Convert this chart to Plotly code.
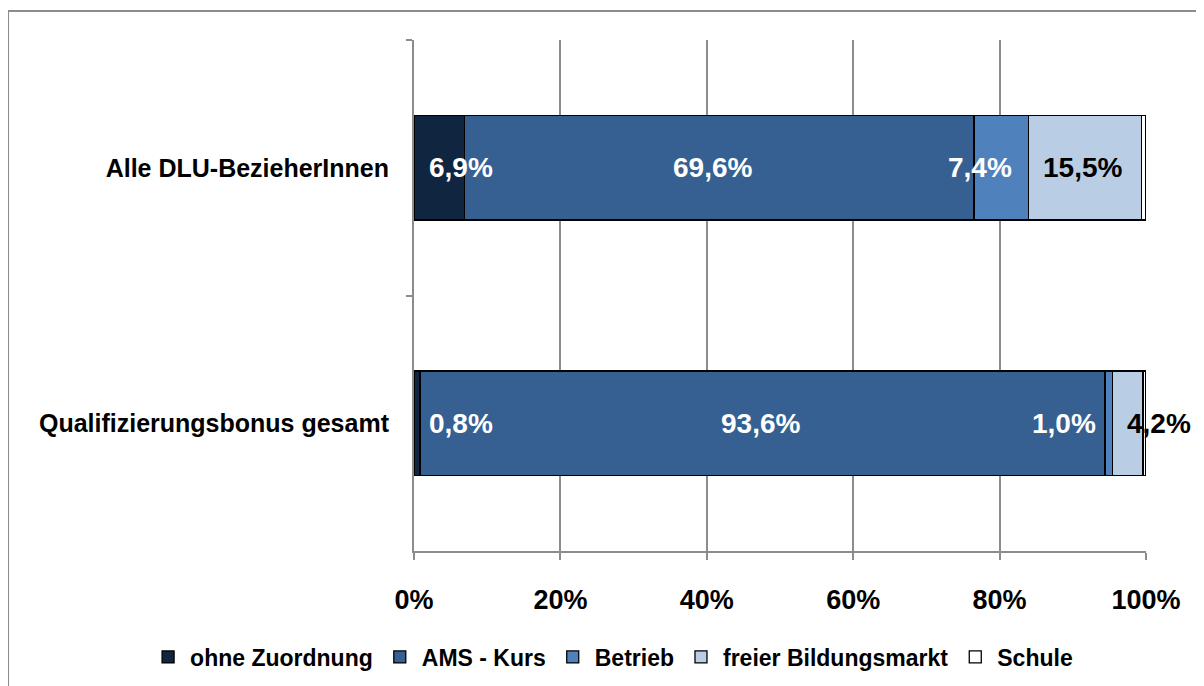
import plotly.graph_objects as go

categories = ["Alle DLU-BezieherInnen", "Qualifizierungsbonus gesamt"]
series_names = ["ohne Zuordnung", "AMS - Kurs", "Betrieb", "freier Bildungsmarkt", "Schule"]
ohne_zuordnung = [6.9, 0.8]
ams_kurs = [69.6, 93.6]
betrieb = [7.4, 1.0]
freier_bildungsmarkt = [15.5, 4.2]
schule = [0.6, 0.4]
x_ticks = [0, 20, 40, 60, 80, 100]
x_tick_labels = ["0%", "20%", "40%", "60%", "80%", "100%"]

# label display (which series are labelled, and where the label sits along the axis, in %)
label_series = [0, 1, 2, 3]
label_x = [[6.4, 40.8, 77.3, 91.3], [6.4, 47.3, 88.8, 101.8]]
label_colors = ["white", "white", "white", "black"]

colors = ["#10253F", "#376092", "#4F81BD", "#B9CDE5", "#FFFFFF"]
series = [ohne_zuordnung, ams_kurs, betrieb, freier_bildungsmarkt, schule]

FONT = "Liberation Sans, Arial, sans-serif"

fig = go.Figure()
for name, vals, col in zip(series_names, series, colors):
    fig.add_trace(go.Bar(
        y=categories, x=vals, name=name, orientation="h",
        marker=dict(color=col, line=dict(color="black", width=1.3)),
        hoverinfo="x+name",
    ))

for ci, cat in enumerate(categories):
    for k, si in enumerate(label_series):
        v = series[si][ci]
        fig.add_annotation(
            x=label_x[ci][k] / 100.0, y=cat, xref="paper", yref="y",
            text=f"{v:.1f}%".replace(".", ","), showarrow=False,
            font=dict(family=FONT, size=28, color=label_colors[k], weight="bold"),
            xanchor="center", yanchor="middle",
        )

# outer chart border (left and top visible)
fig.add_shape(type="line", xref="paper", yref="paper",
              x0=-0.5546, x1=1.2, y0=1.0568, y1=1.0568,
              line=dict(color="#8C8C8C", width=2))
fig.add_shape(type="line", xref="paper", yref="paper",
              x0=-0.5546, x1=-0.5546, y0=1.0568, y1=-0.4,
              line=dict(color="#8C8C8C", width=2))

fig.update_layout(
    width=1196, height=678,
    margin=dict(l=406, r=58, t=32, b=135, autoexpand=False),
    barmode="stack", bargap=0.59,
    plot_bgcolor="white", paper_bgcolor="white",
    font=dict(family=FONT, size=25, color="black", weight="bold"),
    showlegend=True,
    legend=dict(orientation="h", xref="paper", yref="paper",
                x=-0.366, xanchor="left", y=-0.2074, yanchor="middle",
                font=dict(family=FONT, size=23, color="black", weight="bold"),
                traceorder="normal", itemwidth=34),
    xaxis=dict(range=[0, 100], tickvals=x_ticks, ticktext=x_tick_labels,
               showgrid=True, gridcolor="#8C8C8C", gridwidth=1.5,
               showline=True, linecolor="#8C8C8C", linewidth=2,
               ticks="outside", ticklen=7, tickcolor="#8C8C8C", tickwidth=2,
               ticklabelstandoff=17,
               tickfont=dict(family=FONT, size=27, color="black", weight="bold"),
               zeroline=False, fixedrange=True),
    yaxis=dict(autorange="reversed", showgrid=False,
               showline=True, linecolor="#8C8C8C", linewidth=2,
               ticks="outside", ticklen=6, tickcolor="#8C8C8C", tickwidth=2,
               tickson="boundaries", ticklabelstandoff=18,
               tickfont=dict(family=FONT, size=25, color="black", weight="bold"),
               fixedrange=True),
)

fig.write_html("out.html")
